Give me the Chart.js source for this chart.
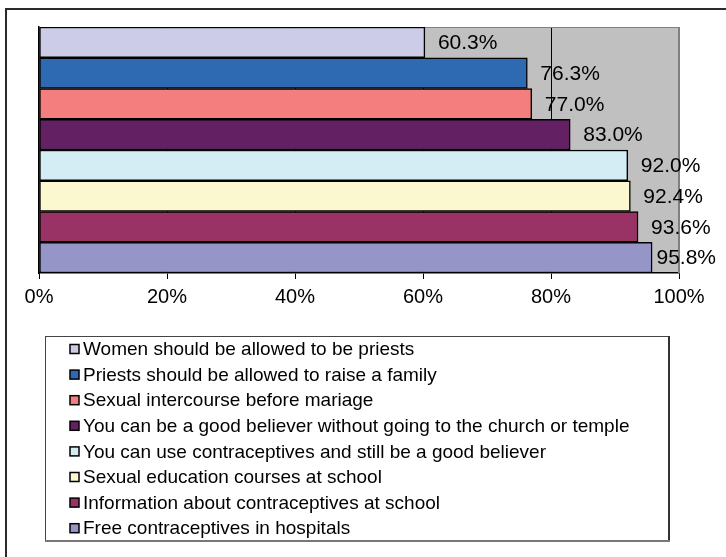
<!DOCTYPE html>
<html>
<head>
<meta charset="utf-8">
<script src="https://cdn.jsdelivr.net/npm/chart.js@4.4.1/dist/chart.umd.min.js"></script>
<style>
  html, body { margin: 0; padding: 0; background: #fff; }
  #wrap { width: 726px; height: 557px; position: relative; }
</style>
</head>
<body>
<div id="wrap"><canvas id="chart"></canvas></div>
<script>
'use strict';
// Statements, top to bottom
const statements = [
  'Women should be allowed to be priests',
  'Priests should be allowed to raise a family',
  'Sexual intercourse before mariage',
  'You can be a good believer without going to the church or temple',
  'You can use contraceptives and still be a good believer',
  'Sexual education courses at school',
  'Information about contraceptives at school',
  'Free contraceptives in hospitals'
];

// Share agreeing (%)
const agreePct = [60.3, 76.3, 77.0, 83.0, 92.0, 92.4, 93.6, 95.8];

const barColors = [
  '#ccccE8', '#2e6ab1', '#f47e7e', '#632063',
  '#d4ecf3', '#fbf7cf', '#993366', '#9595c8'
];

const xTicks = [0, 20, 40, 60, 80, 100];

const FONT = '"Liberation Sans", Arial, sans-serif';

// grey plot background + outer frame
const frame = {
  id: 'frame',
  beforeDraw(chart) {
    const {ctx, chartArea: a} = chart;
    ctx.save();
    ctx.fillStyle = '#fff';
    ctx.fillRect(0, 0, chart.width, chart.height);
    ctx.fillStyle = '#c0c0c0';
    ctx.fillRect(a.left, a.top, a.right - a.left, a.bottom - a.top);
    // outer chart border (runs off right / bottom edge)
    ctx.strokeStyle = '#2a2a2a';
    ctx.lineWidth = 2;
    ctx.beginPath();
    ctx.moveTo(6, chart.height);
    ctx.lineTo(6, 9);
    ctx.lineTo(chart.width, 9);
    ctx.stroke();
    ctx.restore();
  },
  beforeDatasetsDraw(chart) {
    const {ctx, chartArea: a} = chart;
    ctx.save();
    ctx.strokeStyle = '#808080';
    ctx.lineWidth = 1;
    ctx.beginPath();
    ctx.moveTo(a.left, a.top + 0.5);
    ctx.lineTo(a.right, a.top + 0.5);
    ctx.stroke();
    ctx.lineWidth = 2;
    ctx.beginPath();
    ctx.moveTo(a.right, a.top);
    ctx.lineTo(a.right, a.bottom);
    ctx.stroke();
    ctx.restore();
  }
};

// value at the end of each bar
const valueLabels = {
  id: 'valueLabels',
  afterDatasetsDraw(chart) {
    const {ctx} = chart;
    ctx.save();
    ctx.font = '21px ' + FONT;
    ctx.fillStyle = '#000';
    ctx.textBaseline = 'middle';
    ctx.textAlign = 'left';
    chart.data.datasets.forEach((ds, i) => {
      const bar = chart.getDatasetMeta(i).data[0];
      const text = ds.data[0].toFixed(1) + '%';
      const w = ctx.measureText(text).width;
      const x = Math.min(bar.x + 13, chart.width - 10 - w);
      ctx.fillText(text, x, bar.y + 1);
    });
    ctx.restore();
  }
};

// boxed legend, one entry per row
const boxLegend = {
  id: 'boxLegend',
  afterDraw(chart) {
    const {ctx} = chart;
    const left = 45, top = 336, right = 669, bottom = 541;
    ctx.save();
    ctx.fillStyle = '#fff';
    ctx.fillRect(left, top, right - left, bottom - top);
    ctx.strokeStyle = '#444';
    ctx.lineWidth = 1;
    ctx.strokeRect(left + 0.5, top + 0.5, right - left, bottom - top);
    ctx.lineWidth = 2;
    ctx.strokeStyle = '#333';
    ctx.beginPath();
    ctx.moveTo(right, top);
    ctx.lineTo(right, bottom);
    ctx.stroke();
    ctx.strokeStyle = '#777';
    ctx.beginPath();
    ctx.moveTo(left, bottom);
    ctx.lineTo(right + 1, bottom);
    ctx.stroke();

    ctx.font = '19px ' + FONT;
    ctx.textBaseline = 'middle';
    ctx.textAlign = 'left';
    chart.data.datasets.forEach((ds, i) => {
      const y = 349 + i * 25.6;
      ctx.fillStyle = ds.backgroundColor;
      ctx.fillRect(70, y - 4.5, 9, 9);
      ctx.strokeStyle = '#000';
      ctx.lineWidth = 1.5;
      ctx.strokeRect(70, y - 4.5, 9, 9);
      ctx.fillStyle = '#000';
      ctx.fillText(ds.label, 83, y + 1);
    });
    ctx.restore();
  }
};

const data = {
  labels: [''],
  datasets: statements.map((label, i) => ({
    label: label,
    data: [agreePct[i]],
    backgroundColor: barColors[i],
    borderColor: '#000',
    borderWidth: 1.5,
    borderSkipped: false
  }))
};

const config = {
  type: 'bar',
  data: data,
  options: {
    indexAxis: 'y',
    responsive: true,
    maintainAspectRatio: false,
    animation: false,
    devicePixelRatio: 1,
    layout: { padding: { left: 39, right: 47, top: 27, bottom: 254 } },
    datasets: { bar: { categoryPercentage: 1, barPercentage: 1 } },
    plugins: {
      legend: { display: false },
      tooltip: { enabled: false }
    },
    scales: {
      x: {
        type: 'linear',
        position: 'bottom',
        min: 0,
        max: 100,
        afterBuildTicks: s => { s.ticks = xTicks.map(v => ({ value: v })); },
        afterFit: s => { s.height = 30; },
        ticks: {
          callback: v => v + '%',
          color: '#000',
          font: { family: FONT, size: 20 },
          padding: 6,
          maxRotation: 0
        },
        grid: {
          color: c => (c.tick && c.tick.value > 0 && c.tick.value < 100) ? '#000' : 'rgba(0,0,0,0)',
          tickColor: '#000',
          tickLength: 6,
          lineWidth: 1
        },
        border: { color: '#000', width: 1.5 }
      },
      y: {
        type: 'category',
        afterFit: s => { s.width = 0; },
        ticks: { display: false },
        grid: { display: false, drawTicks: false },
        border: { display: true, color: '#000', width: 1.5 }
      }
    }
  },
  plugins: [frame, valueLabels, boxLegend]
};

const canvasElem = document.getElementById('chart');
const myChart = new Chart(canvasElem, config);
</script>
</body>
</html>
